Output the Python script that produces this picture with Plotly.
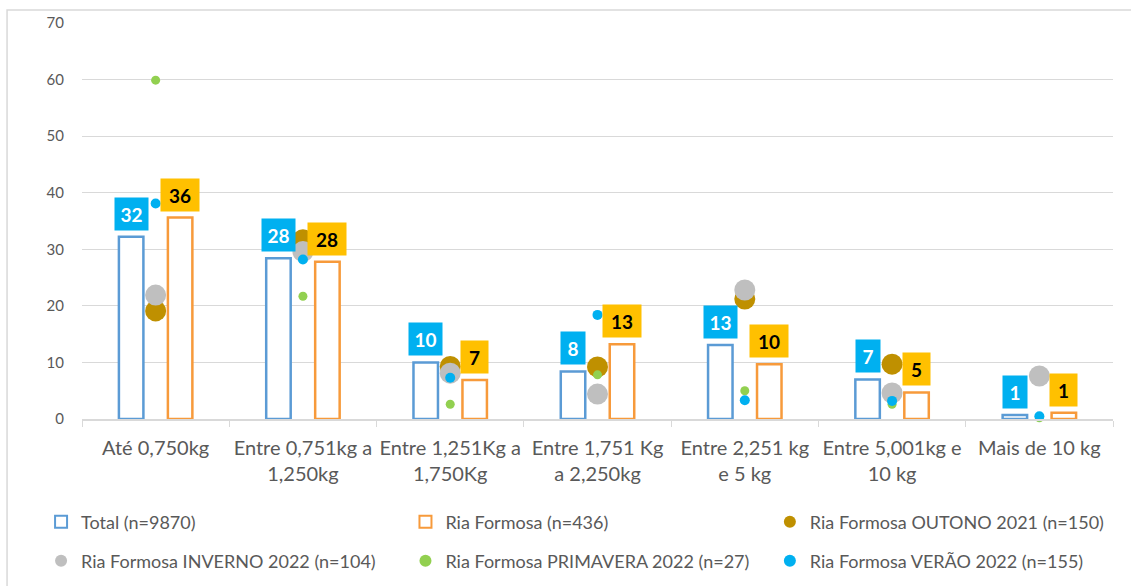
import plotly.graph_objects as go

categories = ["Até 0,750kg", "Entre 0,751kg a<br>1,250kg", "Entre 1,251Kg a<br>1,750Kg",
              "Entre 1,751 Kg<br>a 2,250kg", "Entre 2,251 kg<br>e 5 kg", "Entre 5,001kg e<br>10 kg",
              "Mais de 10 kg"]
total = [32.2, 28.4, 10.0, 8.4, 13.1, 7.0, 0.7]
ria_formosa = [35.6, 27.8, 6.9, 13.2, 9.7, 4.7, 1.1]
outono_2021 = [19.1, 31.7, 9.3, 9.2, 21.2, 9.7, -0.2]
inverno_2022 = [21.9, 29.6, 8.1, 4.4, 22.8, 4.6, 7.6]
primavera_2022 = [59.9, 21.7, 2.6, 7.8, 5.0, 2.6, 0.2]
verao_2022 = [38.1, 28.2, 7.3, 18.4, 3.3, 3.2, 0.5]

names = ["Total (n=9870)", "Ria Formosa (n=436)", "Ria Formosa OUTONO 2021 (n=150)",
         "Ria Formosa INVERNO 2022 (n=104)", "Ria Formosa PRIMAVERA 2022 (n=27)",
         "Ria Formosa VERÃO 2022 (n=155)"]

TXT = "#595959"
GRID = "#D9D9D9"
FONT = "Lato"
BARGAP = 0.335
BARGROUPGAP = 0.5

fig = go.Figure()
fig.add_trace(go.Bar(x=categories, y=total, name=names[0], marker=dict(color="white", line=dict(color="#5B9BD5", width=2.5)), legend="legend"))
fig.add_trace(go.Bar(x=categories, y=ria_formosa, name=names[1], marker=dict(color="white", line=dict(color="#F79A3B", width=2.5)), legend="legend"))

def dots(vals, name, color, size, leg):
    fig.add_trace(go.Scatter(x=categories, y=vals, name=name, mode="markers", cliponaxis=False,
                             marker=dict(color=color, size=size, line=dict(width=0)), legend=leg))

dots(outono_2021, names[2], "#BF9000", 21, "legend")
dots(inverno_2022, names[3], "#BFBFBF", 21, "legend2")
dots(primavera_2022, names[4], "#92D050", 9, "legend2")
dots(verao_2022, names[5], "#00B0F0", 10, "legend2")

off = (1 - BARGAP) / 4
for i, (t, r) in enumerate(zip(total, ria_formosa)):
    lt = str(round(t))
    fig.add_annotation(x=i - off, y=t, text="<b>%s</b>" % lt, showarrow=False, yanchor="bottom", yshift=6,
                       bgcolor="#00B0F0", font=dict(family=FONT, size=19, color="white"),
                       width=9 + 9 * len(lt), height=26, borderpad=3)
    lr = str(round(r))
    fig.add_annotation(x=i + off, y=r, text="<b>%s</b>" % lr, showarrow=False, yanchor="bottom", yshift=6,
                       bgcolor="#FFC000", font=dict(family=FONT, size=19, color="black"),
                       width=10 + 11 * len(lr), height=26, borderpad=3)

# outer chart border
fig.add_shape(type="rect", xref="paper", yref="paper", x0=-0.0727, x1=1.2, y0=-0.6, y1=1.0329,
              line=dict(color=GRID, width=1.5), fillcolor="rgba(0,0,0,0)", layer="below")

legend_common = dict(orientation="h", x=-0.0397, xanchor="left", yanchor="middle",
                     entrywidth=319.4, entrywidthmode="pixels", font=dict(size=18, color=TXT),
                     itemsizing="constant", bgcolor="rgba(0,0,0,0)", traceorder="normal")

fig.update_layout(
    width=1131, height=586,
    margin=dict(l=82, r=18, t=23, b=167, autoexpand=False),
    paper_bgcolor="white", plot_bgcolor="white",
    barmode="group", bargap=BARGAP, bargroupgap=BARGROUPGAP,
    font=dict(family=FONT, color=TXT),
    legend=dict(legend_common, y=-0.2604),
    legend2=dict(legend_common, y=-0.359),
    xaxis=dict(type="category", showline=True, linecolor=GRID, linewidth=1.5, ticks="outside",
               tickson="boundaries", ticklen=6, tickcolor=GRID, tickfont=dict(size=20, color=TXT),
               tickangle=0, showgrid=False, ticklabelstandoff=10, automargin=False),
    yaxis=dict(range=[0, 70], dtick=10, showgrid=True, gridcolor=GRID, gridwidth=1, zeroline=False,
               showline=False, tickfont=dict(size=15, color=TXT), ticklabelstandoff=17, automargin=False),
)

fig.write_html("out.html", config={"displayModeBar": False},
               post_script="document.body.style.margin='0';")
